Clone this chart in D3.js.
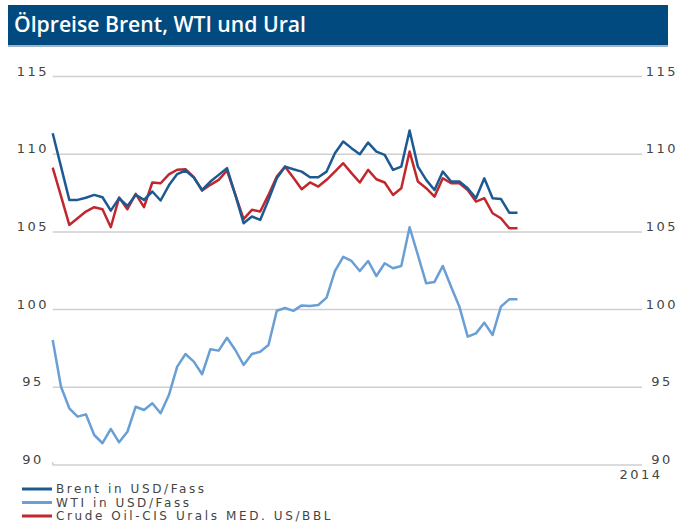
<!DOCTYPE html>
<html>
<head>
<meta charset="utf-8">
<script src="https://cdn.jsdelivr.net/npm/d3@7"></script>
<style>
  body { margin: 0; background: #fff; }
  text { font-family: "DejaVu Sans", sans-serif; }
</style>
</head>
<body>
<div id="chart"></div>
<script>
// Values (weekly points, same x-step for all series)
const brent = [111.35, 109.2, 107.06, 107.06, 107.2, 107.38, 107.23, 106.37, 107.17, 106.67,
    107.38, 107.06, 107.6, 107.02, 108.0, 108.72, 108.95, 108.5, 107.7, 108.24,
    108.67, 109.1, 107.38, 105.56, 105.99, 105.77, 107.06, 108.45, 109.2, 109.03,
    108.88, 108.52, 108.52, 108.88, 110.06, 110.82, 110.39, 110.0, 110.75, 110.17,
    109.96, 108.99, 109.2, 111.52, 109.2, 108.35, 107.7, 108.88, 108.24, 108.24,
    107.81, 107.17, 108.45, 107.17, 107.12, 106.24, 106.24];
const wti = [98.04, 95.04, 93.65, 93.11, 93.26, 91.93, 91.4, 92.32, 91.46, 92.14,
    93.75, 93.54, 93.97, 93.33, 94.5, 96.33, 97.14, 96.65, 95.84, 97.45,
    97.36, 98.19, 97.4, 96.44, 97.14, 97.29, 97.72, 99.93, 100.1, 99.92,
    100.27, 100.23, 100.3, 100.77, 102.48, 103.4, 103.13, 102.48, 103.13, 102.16,
    102.98, 102.66, 102.81, 105.3, 103.51, 101.69, 101.78, 102.81, 101.47, 100.19,
    98.26, 98.47, 99.16, 98.37, 100.19, 100.66, 100.66];
const urals = [109.14, 107.3, 105.45, 105.88, 106.31, 106.59, 106.46, 105.3, 107.21, 106.46,
    107.45, 106.59, 108.18, 108.13, 108.7, 109.0, 109.03, 108.52, 107.66, 108.03,
    108.35, 108.95, 107.4, 105.82, 106.42, 106.31, 107.38, 108.56, 109.2, 108.48,
    107.75, 108.18, 107.92, 108.35, 108.88, 109.42, 108.78, 108.18, 108.99, 108.39,
    108.18, 107.38, 107.81, 110.17, 108.24, 107.81, 107.27, 108.45, 108.13, 108.13,
    107.7, 106.95, 107.17, 106.2, 105.88, 105.24, 105.24];
const yTicks = [90, 95, 100, 105, 110, 115];
const xLabel = "2014";
const title = "Ölpreise Brent, WTI und Ural";
const seriesNames = ["Brent in USD/Fass", "WTI in USD/Fass", "Crude Oil-CIS Urals MED. US/BBL"];
const seriesColors = ["#1d5a92", "#6a9fd6", "#c1272d"];

const width = 679, height = 526;
const svg = d3.select("#chart").append("svg")
    .attr("width", width)
    .attr("height", height);

// Title bar
svg.append("rect")
    .attr("x", 8).attr("y", 5)
    .attr("width", 660).attr("height", 41)
    .attr("fill", "#004a80");
svg.append("rect")
    .attr("x", 8).attr("y", 45)
    .attr("width", 660).attr("height", 2)
    .attr("fill", "#9fb4c8");
svg.append("text")
    .attr("x", 14).attr("y", 32)
    .attr("fill", "#fff")
    .style("font-family", "'Open Sans', sans-serif")
    .style("font-weight", 600)
    .style("font-size", "21px")
    .attr("textLength", 292)
    .attr("lengthAdjust", "spacingAndGlyphs")
    .text(title);

// Scales
const x = d3.scaleLinear().domain([0, 71]).range([52.7, 642]);
const y = d3.scaleLinear().domain([90, 115]).range([465, 76.5]);

// Gridlines
svg.append("g")
    .selectAll("line")
    .data(yTicks)
    .join("line")
    .attr("x1", x(0)).attr("x2", x(71))
    .attr("y1", d => y(d)).attr("y2", d => y(d))
    .attr("stroke", "#cfcfcf")
    .attr("stroke-width", 1.5);

// small tick at the left of the base line
svg.append("line")
    .attr("x1", x(0)).attr("x2", x(0))
    .attr("y1", y(90) - 3).attr("y2", y(90))
    .attr("stroke", "#cfcfcf")
    .attr("stroke-width", 1.5);

// Tick labels both sides
const labelStyle = sel => sel
    .attr("fill", "#444")
    .style("font-size", "13px")
    .style("letter-spacing", "2.5px")
    .attr("text-anchor", "middle");

svg.append("g").selectAll("text")
    .data(yTicks)
    .join("text")
    .attr("x", 33)
    .attr("y", d => y(d) - 1)
    .call(labelStyle)
    .text(d => d);

svg.append("g").selectAll("text")
    .data(yTicks)
    .join("text")
    .attr("x", 662)
    .attr("y", d => y(d) - 1)
    .call(labelStyle)
    .text(d => d);

svg.append("text")
    .attr("x", 641)
    .attr("y", 479)
    .call(labelStyle)
    .text(xLabel);

// Lines
const line = d3.line()
    .x((d, i) => x(i))
    .y(d => y(d));

[[wti, seriesColors[1]], [urals, seriesColors[2]], [brent, seriesColors[0]]].forEach(([data, color]) => {
    svg.append("path")
        .datum(data)
        .attr("fill", "none")
        .attr("stroke", color)
        .attr("stroke-width", 2.5)
        .attr("stroke-linejoin", "round")
        .attr("d", line);
});

// Legend
const legend = svg.append("g")
    .selectAll("g")
    .data(seriesNames)
    .join("g")
    .attr("transform", (d, i) => `translate(22,${489 + i * 13.5})`);

legend.append("line")
    .attr("x1", 0).attr("x2", 30)
    .attr("stroke", (d, i) => seriesColors[i])
    .attr("stroke-width", 3);

legend.append("text")
    .attr("x", 34)
    .attr("y", 4.2)
    .attr("fill", "#444")
    .style("font-size", "12px")
    .style("letter-spacing", "2.6px")
    .text(d => d);
</script>
</body>
</html>
